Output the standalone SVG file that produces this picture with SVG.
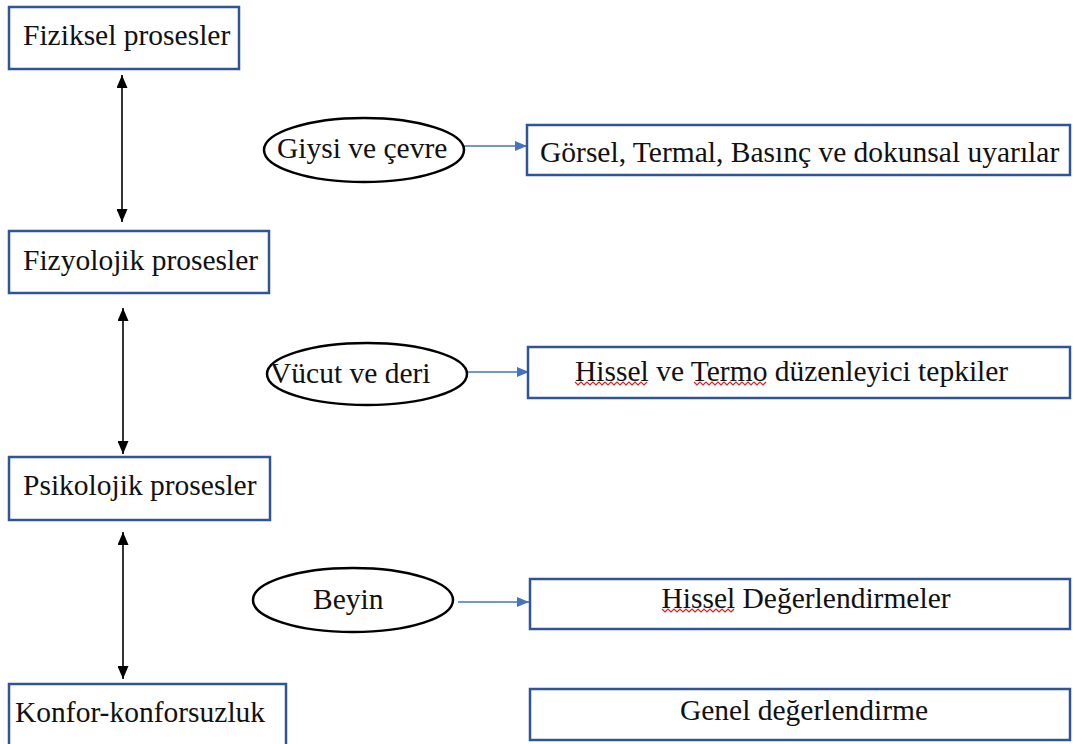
<svg xmlns="http://www.w3.org/2000/svg" width="1073" height="744" viewBox="0 0 1073 744">
<defs>
<style>
.box{fill:#fff;stroke:#2F5597;stroke-width:2.5}
.ell{fill:#fff;stroke:#000;stroke-width:2.5}
.t{font-family:"Liberation Serif","Times New Roman",serif;font-size:29.5px;fill:#111}
.bi{stroke:#000;stroke-width:1.6;fill:none;marker-start:url(#ahb);marker-end:url(#ahb)}
.bl{stroke:#4472C4;stroke-width:1.5;fill:none;marker-end:url(#ahl)}
.sq{stroke:#E02020;stroke-width:1.2;fill:none}
</style>
<marker id="ahb" viewBox="0 0 13 11" refX="13" refY="5.5" markerWidth="13" markerHeight="11" markerUnits="userSpaceOnUse" orient="auto-start-reverse"><path d="M0,0 L13,5.5 L0,11 Z" fill="#000"/></marker>
<marker id="ahl" viewBox="0 0 12 10" refX="12" refY="5" markerWidth="12" markerHeight="10" markerUnits="userSpaceOnUse" orient="auto"><path d="M0,0 L12,5 L0,10 Z" fill="#4472C4"/></marker>
</defs>
<rect width="1073" height="744" fill="#fff"/>
<g id="connectors">
<line class="bi" x1="122" y1="75" x2="122" y2="222"/>
<line class="bi" x1="123" y1="308" x2="123" y2="454"/>
<line class="bi" x1="123" y1="532" x2="123" y2="679"/>
<line class="bl" x1="463" y1="146" x2="527" y2="146"/>
<line class="bl" x1="467" y1="372" x2="529" y2="372"/>
<line class="bl" x1="458" y1="602" x2="529" y2="602"/>
</g>
<g id="n1"><rect class="box" x="9" y="7" width="230" height="62"/><text class="t" x="23" y="45">Fiziksel prosesler</text></g>
<g id="n2"><rect class="box" x="9" y="231" width="260" height="62"/><text class="t" x="23" y="270">Fizyolojik prosesler</text></g>
<g id="n3"><rect class="box" x="9" y="457" width="261" height="63"/><text class="t" x="23" y="495">Psikolojik prosesler</text></g>
<g id="n4"><rect class="box" x="9" y="684" width="277" height="70"/><text class="t" x="15" y="722">Konfor-konforsuzluk</text></g>
<g id="e1"><ellipse class="ell" cx="364" cy="150" rx="100" ry="32"/><text class="t" x="277" y="158">Giysi ve çevre</text></g>
<g id="e2"><ellipse class="ell" cx="367" cy="374" rx="100" ry="31"/><text class="t" x="270" y="383">Vücut ve deri</text></g>
<g id="e3"><ellipse class="ell" cx="353" cy="600" rx="100" ry="32"/><text class="t" x="313" y="609">Beyin</text></g>
<g id="r1"><rect class="box" x="527" y="125" width="543" height="50"/><text class="t" x="540" y="162">Görsel, Termal, Basınç ve dokunsal uyarılar</text></g>
<g id="r2"><rect class="box" x="528" y="347" width="542" height="51"/><text class="t" x="575" y="381">Hissel ve Termo düzenleyici tepkiler</text>
<path class="sq" d="M575,382 l3,3 l3,-3 l3,3 l3,-3 l3,3 l3,-3 l3,3 l3,-3 l3,3 l3,-3 l3,3 l3,-3 l3,3 l3,-3 l3,3 l3,-3 l3,3 l3,-3 l3,3 l3,-3 l3,3 l3,-3 l3,3 l3,-3"/>
<path class="sq" d="M694,382 l3,3 l3,-3 l3,3 l3,-3 l3,3 l3,-3 l3,3 l3,-3 l3,3 l3,-3 l3,3 l3,-3 l3,3 l3,-3 l3,3 l3,-3 l3,3 l3,-3 l3,3 l3,-3 l3,3 l3,-3 l3,3 l3,-3"/>
</g>
<g id="r3"><rect class="box" x="530" y="579" width="540" height="50"/><text class="t" x="806" y="608" text-anchor="middle">Hissel Değerlendirmeler</text>
<path class="sq" d="M662,609 l3,3 l3,-3 l3,3 l3,-3 l3,3 l3,-3 l3,3 l3,-3 l3,3 l3,-3 l3,3 l3,-3 l3,3 l3,-3 l3,3 l3,-3 l3,3 l3,-3 l3,3 l3,-3 l3,3 l3,-3 l3,3 l3,-3"/>
</g>
<g id="r4"><rect class="box" x="530" y="689" width="540" height="51"/><text class="t" x="804" y="720" text-anchor="middle">Genel değerlendirme</text></g>
</svg>
